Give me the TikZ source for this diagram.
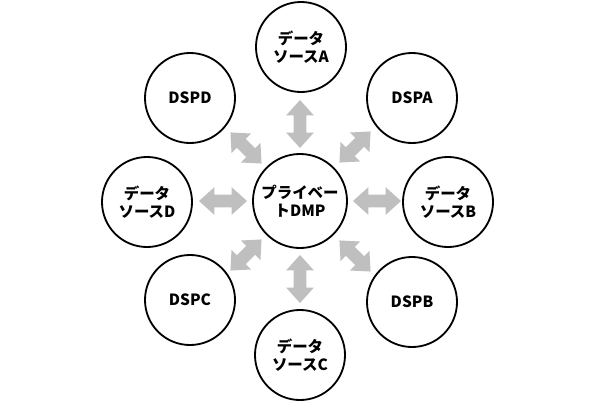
\documentclass[tikz,border=0pt]{standalone}
\usepackage{fontspec}
\setmainfont{Noto Sans CJK JP}
\usetikzlibrary{shapes.arrows}

\tikzset{
  hub/.style={circle, draw, line width=1.3pt, minimum size=2.35cm, inner sep=0pt,
    align=center, font=\bfseries\fontsize{11}{13}\selectfont},
  spoke/.style={circle, draw, line width=1.3pt, minimum size=2.25cm, inner sep=0pt,
    align=center, font=\bfseries\fontsize{11}{13}\selectfont},
  link/.style={double arrow, fill=black!25, draw=none, inner xsep=0pt,
    inner ysep=0.15cm, double arrow head extend=0.19cm, double arrow tip angle=84,
    minimum height=1.2cm},
  slant/.style={link, minimum height=1.1cm}
}

\begin{document}
\begin{tikzpicture}[x=0.025cm, y=-0.025cm]
  \useasboundingbox (0,0) rectangle (600,402);

  % center
  \node[hub] (dmp) at (300,201) {プライベー\\トDMP};

  % data sources
  \node[spoke] (srcA) at (301,47) {データ\\ソースA};
  \node[spoke] (srcB) at (448,202) {データ\\ソースB};
  \node[spoke] (srcC) at (300,355) {データ\\ソースC};
  \node[spoke] (srcD) at (147,202) {データ\\ソースD};

  % DSPs
  \node[spoke] (dspA) at (412,98) {DSPA};
  \node[spoke] (dspB) at (412,302) {DSPB};
  \node[spoke] (dspC) at (190,300) {DSPC};
  \node[spoke] (dspD) at (190,98) {DSPD};

  % arrows between the hub and the spokes
  \node[link, rotate=90] (toA) at (300,124) {};
  \node[link] (toB) at (377,201) {};
  \node[link, rotate=90] (toC) at (300,279) {};
  \node[link] (toD) at (223,201) {};
  \node[slant, rotate=45] (toDspA) at (355,147) {};
  \node[slant, rotate=-45] (toDspB) at (355,256) {};
  \node[slant, rotate=45] (toDspC) at (246,255) {};
  \node[slant, rotate=-45] (toDspD) at (246,148) {};
\end{tikzpicture}
\end{document}
